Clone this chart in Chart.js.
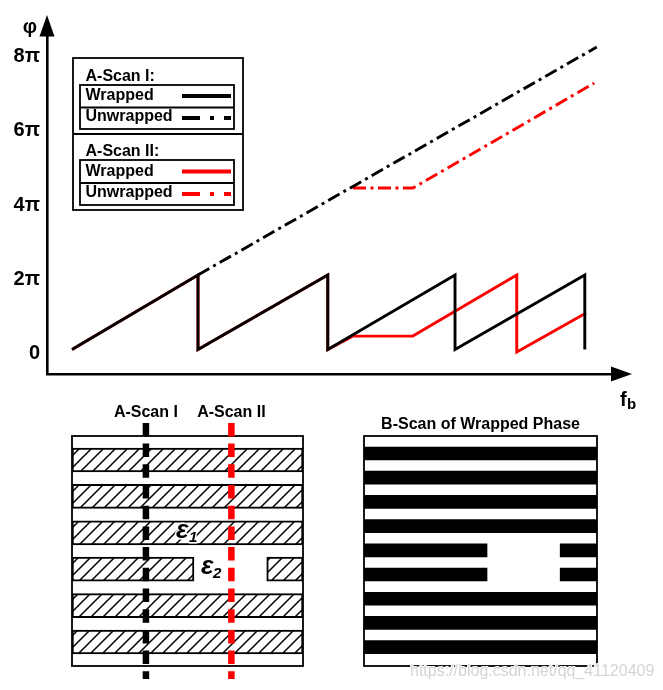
<!DOCTYPE html>
<html>
<head>
<meta charset="utf-8">
<style>
html,body{margin:0;padding:0;background:#fff}
canvas{position:absolute;left:0;top:0}
</style>
<script src="https://cdn.jsdelivr.net/npm/chart.js@4"></script>
</head>
<body>
<canvas id="phase" width="663" height="690"></canvas>
<canvas id="ascan" width="663" height="690"></canvas>
<canvas id="bscan" width="663" height="690"></canvas>
<script>
// Phase traces: x in beat-frequency units, y in multiples of pi
const wrappedIX = [0,2,2,4.06,4.06,6.08,6.08,8.14,8.14];
const wrappedIY = [0,2,0,2,0,2,0,2,0];
const unwrappedIX = [2,8.33];
const unwrappedIY = [2,8.12];
const wrappedIIX = [0,2,2,4.06,4.06,4.46,5.41,7.06,7.06,8.16];
const wrappedIIY = [0,2,0,2,0,0.36,0.36,2,-0.07,0.98];
const unwrappedIIX = [4.46,5.41,8.29];
const unwrappedIIY = [4.335,4.335,7.15];
const phaseTicks = [0,2,4,6,8];

// Left panel: hatched layers
const layerRows = [1,2,3,4,5,6];
const layerEnds = [100,100,100,52.8,100,100];
const layerExtraRows = [4];
const layerExtraSpans = [[84.3,100]];
const scanPositions = [32,69];
const scanRowRange = [-0.02,7.02];
const scanNames = ['A-Scan I','A-Scan II'];

// Right panel: wrapped-phase stripes
const stripeRows = [1,2,3,4,5,6,7,8,9];
const stripeEnds = [100,100,100,100,52.8,52.8,100,100,100];
const stripeExtraRows = [5,6];
const stripeExtraSpans = [[84.2,100],[84.2,100]];

const zip = (xs,ys)=>xs.map((x,i)=>({x,y:ys[i]}));
const FONT = '"Liberation Sans", Arial, sans-serif';
function txt(c,s,x,y,font,opt){
  opt=opt||{};
  c.save();
  c.font=font+' '+FONT;
  c.textBaseline='middle';
  c.textAlign=opt.align||'left';
  if(opt.halo){c.strokeStyle='#fff';c.lineWidth=opt.halo;c.lineJoin='round';c.strokeText(s,x,y);}
  c.fillStyle=opt.color||'#000';
  c.fillText(s,x,y);
  c.restore();
}
function seg(c,x1,y1,x2,y2,color,w,dash){
  c.save();c.strokeStyle=color;c.lineWidth=w;c.setLineDash(dash||[]);
  c.beginPath();c.moveTo(x1,y1);c.lineTo(x2,y2);c.stroke();c.restore();
}
function box(c,x,y,w,h){
  c.save();c.strokeStyle='#000';c.lineWidth=1.8;c.strokeRect(x,y,w,h);c.restore();
}
const LINE = 2.9;
const DASHDOT = [13,4.5,3,4.5];

const phaseDecor = {
  id:'phaseDecor',
  afterDraw(chart){
    const c=chart.ctx, a=chart.chartArea;
    c.save();c.fillStyle='#000';
    c.beginPath();c.moveTo(a.left,15);c.lineTo(a.left-7.5,36.5);c.lineTo(a.left+7.5,36.5);c.closePath();c.fill();
    c.beginPath();c.moveTo(632,a.bottom);c.lineTo(611,a.bottom-7.5);c.lineTo(611,a.bottom+7.5);c.closePath();c.fill();
    c.restore();
    txt(c,'φ',30,27,'bold 20px',{align:'center'});
    txt(c,'f',620,400,'bold 20px');
    txt(c,'b',627,405,'bold 15px');
    // legend
    box(c,73,58,170,152);
    seg(c,73,134,243,134,'#000',1.8);
    box(c,80,85,154,44);
    seg(c,80,107.5,234,107.5,'#000',1.8);
    box(c,80,160,154,45);
    seg(c,80,183,234,183,'#000',1.8);
    const f='bold 16px';
    txt(c,'A-Scan I:',85.5,76.5,f);
    txt(c,'Wrapped',85.5,96,f);
    txt(c,'Unwrapped',85.5,116.5,f);
    txt(c,'A-Scan II:',85.5,152,f);
    txt(c,'Wrapped',85.5,172,f);
    txt(c,'Unwrapped',85.5,192.5,f);
    const ld=[18,10,4,10];
    seg(c,182,96,231,96,'#000',4);
    seg(c,182,118,231,118,'#000',4,ld);
    seg(c,182,171.5,231,171.5,'#f00',4);
    seg(c,182,194,231,194,'#f00',4,ld);
  }
};

new Chart(document.getElementById('phase'),{
  type:'scatter',
  plugins:[phaseDecor],
  data:{datasets:[
    {label:'A-Scan I Wrapped',data:zip(wrappedIX,wrappedIY),showLine:true,borderColor:'#000',borderWidth:LINE,pointRadius:0,clip:false,borderJoinStyle:'miter'},
    {label:'A-Scan I Unwrapped',data:zip(unwrappedIX,unwrappedIY),showLine:true,borderColor:'#000',borderWidth:LINE,borderDash:DASHDOT,pointRadius:0,clip:false},
    {label:'A-Scan II Wrapped',data:zip(wrappedIIX,wrappedIIY),showLine:true,borderColor:'#f00',borderWidth:LINE,pointRadius:0,clip:false,borderJoinStyle:'miter'},
    {label:'A-Scan II Unwrapped',data:zip(unwrappedIIX,unwrappedIIY),showLine:true,borderColor:'#f00',borderWidth:LINE,borderDash:DASHDOT,pointRadius:0,clip:false}
  ]},
  options:{
    responsive:false,animation:false,
    layout:{padding:{left:0,top:36,right:52,bottom:316}},
    plugins:{legend:{display:false},title:{display:false},tooltip:{enabled:false}},
    scales:{
      x:{type:'linear',min:-0.397,max:8.556,
        afterFit(s){s.height=0;},
        ticks:{display:false},
        grid:{drawOnChartArea:false,drawTicks:false},
        border:{display:true,color:'#000',width:2.6}},
      y:{type:'linear',min:-0.658,max:8.416,display:false},
      yLabels:{type:'linear',position:'left',min:-0.552,max:8.552,
        afterFit(s){s.width=47;},
        afterBuildTicks(s){s.ticks=phaseTicks.map(value=>({value}));},
        ticks:{padding:7,color:'#000',font:{family:FONT,size:20,weight:'bold'},
          callback:v=>v===0?'0':v+'π'},
        grid:{drawOnChartArea:false,drawTicks:false},
        border:{display:true,color:'#000',width:2.6}}
    }
  }
});

function hatchPattern(){
  const s=12,t=document.createElement('canvas');
  t.width=s;t.height=s;
  const c=t.getContext('2d');
  c.fillStyle='#fff';c.fillRect(0,0,s,s);
  c.strokeStyle='#000';c.lineWidth=1.5;
  c.beginPath();
  c.moveTo(-2,s+2);c.lineTo(s+2,-2);
  c.moveTo(-2,2);c.lineTo(2,-2);
  c.moveTo(s-2,s+2);c.lineTo(s+2,s-2);
  c.stroke();
  return document.createElement('canvas').getContext('2d').createPattern(t,'repeat');
}
const hatch=hatchPattern();
const frame={
  id:'frame',
  beforeDatasetsDraw(chart){
    const a=chart.chartArea;
    box(chart.ctx,a.left,a.top,a.right-a.left,a.bottom-a.top);
  }
};
const ascanText={
  id:'ascanText',
  afterDraw(chart){
    const c=chart.ctx,x=chart.scales.x;
    scanNames.forEach((n,i)=>txt(c,n,x.getPixelForValue(scanPositions[i]),413,'bold 16px',{align:'center'}));
    txt(c,'ε',176,531,'bold italic 26px',{halo:3});
    txt(c,'1',189,538,'bold italic 15px',{halo:3});
    txt(c,'ε',201,567,'bold italic 26px');
    txt(c,'2',213,574,'bold italic 15px');
  }
};
const scanDash=[13.5,7.2];
new Chart(document.getElementById('ascan'),{
  type:'bar',
  plugins:[frame,ascanText],
  data:{datasets:[
    {type:'line',label:scanNames[0],data:scanRowRange.map(y=>({x:scanPositions[0],y})),borderColor:'#000',borderWidth:6.5,borderDash:scanDash,pointRadius:0,clip:false},
    {type:'line',label:scanNames[1],data:scanRowRange.map(y=>({x:scanPositions[1],y})),borderColor:'#f00',borderWidth:6.5,borderDash:scanDash,pointRadius:0,clip:false},
    {label:'Layer',data:layerRows.map((y,i)=>({y,x:[0,layerEnds[i]]})),backgroundColor:hatch,borderColor:'#000',borderWidth:2,borderSkipped:false,barThickness:24,grouped:false},
    {label:'Layer right',data:layerExtraRows.map((y,i)=>({y,x:layerExtraSpans[i]})),backgroundColor:hatch,borderColor:'#000',borderWidth:2,borderSkipped:false,barThickness:24,grouped:false}
  ]},
  options:{
    indexAxis:'y',responsive:false,animation:false,
    layout:{padding:{left:72,right:360,top:436,bottom:24}},
    plugins:{legend:{display:false},tooltip:{enabled:false}},
    scales:{
      x:{type:'linear',min:0,max:100,display:false,offset:false},
      y:{type:'linear',reverse:true,min:0.34,max:6.66,display:false,offset:false}
    }
  }
});

const watermark={
  id:'watermark',
  afterDraw(chart){
    txt(chart.ctx,'https://blog.csdn.net/qq_41120409',410,672,'16px',{color:'#d4d4d4',halo:2});
  }
};
new Chart(document.getElementById('bscan'),{
  type:'bar',
  plugins:[frame,watermark],
  data:{datasets:[
    {label:'Stripe',data:stripeRows.map((y,i)=>({y,x:[0,stripeEnds[i]]})),backgroundColor:'#000',barThickness:13,grouped:false},
    {label:'Stripe right',data:stripeExtraRows.map((y,i)=>({y,x:stripeExtraSpans[i]})),backgroundColor:'#000',barThickness:13,grouped:false}
  ]},
  options:{
    indexAxis:'y',responsive:false,animation:false,
    layout:{padding:{left:364,right:66,top:0,bottom:24}},
    plugins:{
      legend:{display:false},tooltip:{enabled:false},
      title:{display:true,text:'B-Scan of Wrapped Phase',color:'#000',
        font:{family:FONT,size:16,weight:'bold'},padding:{top:415,bottom:1.8}}
    },
    scales:{
      x:{type:'linear',min:0,max:100,display:false,offset:false},
      y:{type:'linear',reverse:true,min:0.277,max:9.78,display:false,offset:false}
    }
  }
});
</script>
</body>
</html>
